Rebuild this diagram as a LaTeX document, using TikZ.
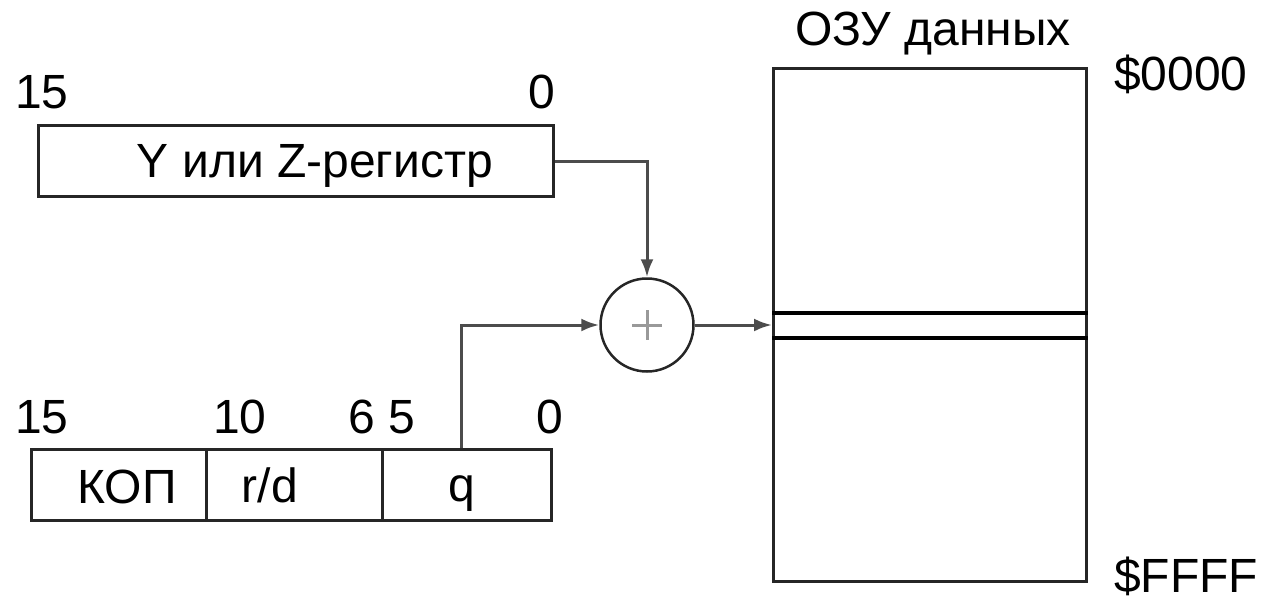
\documentclass[tikz,border=0pt]{standalone}
\usepackage{fontspec}
\setmainfont{Liberation Sans}
\usetikzlibrary{arrows.meta}
\begin{document}
\begin{tikzpicture}[x=1pt,y=-1pt,
  box/.style={draw=black!85,line width=3pt},
  lbl/.style={font=\fontsize{48}{48}\selectfont,inner sep=0pt},
  conn/.style={draw=black!70,line width=3pt},
  arr/.style={conn,-{Latex[length=18pt,width=13pt]}}]
\useasboundingbox (0,0) rectangle (1261,603);
% Y/Z register
\node[box,minimum width=515pt,minimum height=71pt,inner sep=0pt,anchor=north west] (reg) at (37,124) {};
\node[lbl,anchor=base] (regt) at (315,177) {Y или Z-регистр};
\node[lbl,anchor=base west] (r15) at (15,108) {15};
\node[lbl,anchor=base east] (r0) at (555,108) {0};
% adder
\node[draw=black!85,line width=2.5pt,circle,minimum size=93pt,inner sep=0pt] (sum) at (647,325) {};
\draw[draw=black!40,line width=3pt] (sum.center) ++(-15,0) -- ++(30,0);
\draw[draw=black!40,line width=3pt] (sum.center) ++(0,-15) -- ++(0,30);
% instruction word
\node[box,minimum width=175pt,minimum height=71pt,inner sep=0pt,anchor=north west] (kop) at (30,448) {};
\node[box,minimum width=176pt,minimum height=71pt,inner sep=0pt,anchor=north west] (rd) at (205,448) {};
\node[box,minimum width=169pt,minimum height=71pt,inner sep=0pt,anchor=north west] (q) at (381,448) {};
\node[lbl,anchor=base] (kopt) at (127,503) {КОП};
\node[lbl,anchor=base] (rdt) at (270,502) {r/d};
\node[lbl,anchor=base] (qt) at (462,501) {q};
\node[lbl,anchor=base west] (b15) at (15,433) {15};
\node[lbl,anchor=base west] (b10) at (213,433) {10};
\node[lbl,anchor=base east] (b6) at (375,433) {6};
\node[lbl,anchor=base west] (b5) at (388,433) {5};
\node[lbl,anchor=base east] (b0) at (563,433) {0};
% memory
\node[box,minimum width=313pt,minimum height=513pt,inner sep=0pt,anchor=north west] (mem) at (772,67) {};
\coordinate (cellT) at (772,313);
\coordinate (cellB) at (772,338);
\draw[draw=black,line width=3.5pt] (cellT) -- (mem.east |- cellT);
\draw[draw=black,line width=3.5pt] (cellB) -- (mem.east |- cellB);
\node[lbl,anchor=base] (memt) at (933,45) {ОЗУ данных};
\node[lbl,anchor=base west] (a0) at (1114,90) {\$0000};
\node[lbl,anchor=base west] (aF) at (1114,592) {\$FFFF};
% connectors
\coordinate (qtop) at (461,448);
\draw[arr] (reg.east) -| (sum.north);
\draw[arr] (qtop) |- (sum.west);
\draw[arr] (sum.east) -- (mem.west |- sum.east);
\end{tikzpicture}
\end{document}
